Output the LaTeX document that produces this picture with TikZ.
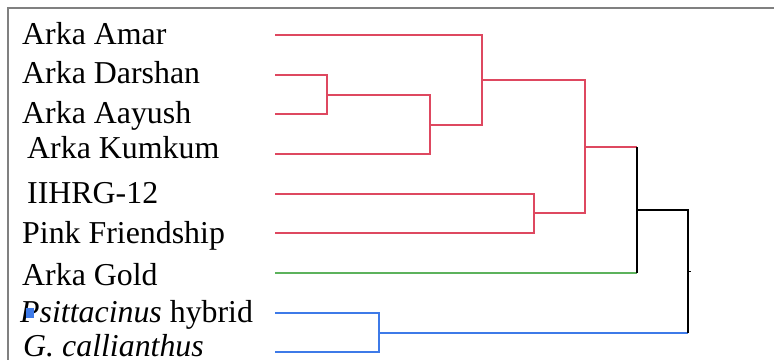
\documentclass[tikz,border=0pt]{standalone}
\usepackage{fontspec}
\setmainfont{Liberation Serif}
\definecolor{clred}{RGB}{222,72,96}
\definecolor{clgreen}{RGB}{92,178,92}
\definecolor{clblue}{RGB}{62,122,232}
\begin{document}
\begin{tikzpicture}[
  x=0.03cm, y=-0.03cm,
  taxon/.style={anchor=base west, inner sep=0pt, font=\fontsize{27.2}{31}\selectfont},
  frameline/.style={draw=gray, line width=1.3pt},
  redlink/.style={draw=clred, line width=1.1pt},
  greenlink/.style={draw=clgreen, line width=1.1pt},
  bluelink/.style={draw=clblue, line width=1.1pt},
  rootlink/.style={draw=black, line width=1pt},
]
  \useasboundingbox (0,0) rectangle (774,360);

  % Frame
  \draw[frameline] (8,360) -- (8,8) -- (774,8);

  % Taxa
  \node[taxon] (amar)   at (22,44)  {Arka Amar};
  \node[taxon] (darsh)  at (22,83)  {Arka Darshan};
  \node[taxon] (aayush) at (22,123) {Arka Aayush};
  \node[taxon] (kumkum) at (27,158) {Arka Kumkum};
  \node[taxon] (iihrg)  at (27,203) {IIHRG-12};
  \node[taxon] (pink)   at (22,243) {Pink Friendship};
  \node[taxon] (gold)   at (22,285) {Arka Gold};
  \node[taxon] (psitt)  at (20,322) {\textit{Psittacinus} hybrid};
  \node[taxon] (gcall)  at (23,356) {\textit{G. callianthus}};
  \fill[clblue] (26,308) rectangle (34,318);

  % Leaf ends
  \coordinate (lamar)   at (275,35);
  \coordinate (ldarsh)  at (275,75);
  \coordinate (laayush) at (275,114);
  \coordinate (lkumkum) at (275,154);
  \coordinate (liihrg)  at (275,194);
  \coordinate (lpink)   at (275,233);
  \coordinate (lgold)   at (275,273);
  \coordinate (lpsitt)  at (275,313);
  \coordinate (lgcall)  at (275,352);

  % Joins
  \coordinate (j1) at (327,95);
  \coordinate (j2) at (430,125);
  \coordinate (j3) at (482,80);
  \coordinate (j4) at (534,213);
  \coordinate (j5) at (585,147);
  \coordinate (j6) at (637,210);
  \coordinate (j7) at (379,333);
  \coordinate (j8) at (688,271);

  % Red cluster
  \draw[redlink] (ldarsh) -| (j1) |- (laayush);
  \draw[redlink] (j1) -| (j2) |- (lkumkum);
  \draw[redlink] (lamar) -| (j3) |- (j2);
  \draw[redlink] (liihrg) -| (j4) |- (lpink);
  \draw[redlink] (j3) -| (j5) |- (j4);
  \draw[redlink] (j5) -- (j5 -| j6);

  % Gold
  \draw[greenlink] (lgold) -- (lgold -| j6);
  \draw[rootlink] (j5 -| j6) -- (lgold -| j6);

  % Blue cluster
  \draw[bluelink] (lpsitt) -| (j7) |- (lgcall);
  \draw[bluelink] (j7) -- (j7 -| j8);

  % Root
  \draw[rootlink] (j6) -- (j6 -| j8) -- (j7 -| j8);
  \draw[rootlink, line width=0.5pt] (j8) -- ++(3,0);
\end{tikzpicture}
\end{document}
